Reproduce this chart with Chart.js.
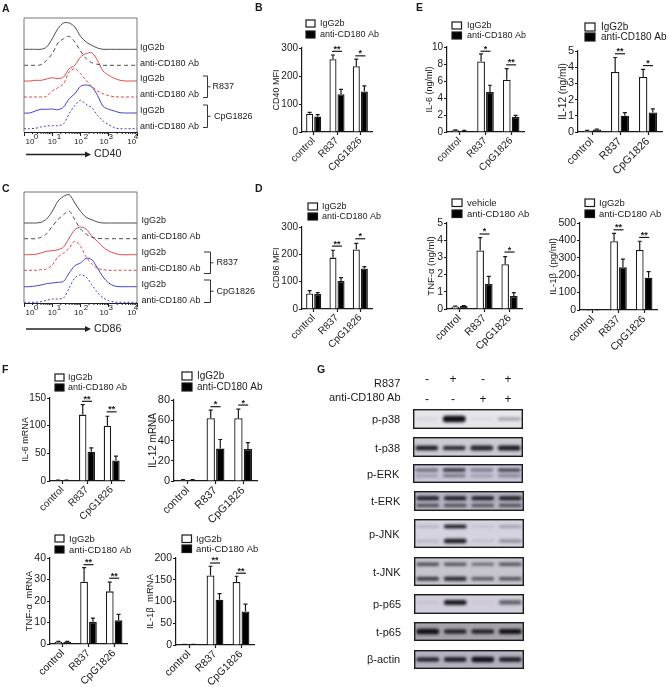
<!DOCTYPE html>
<html>
<head>
<meta charset="utf-8">
<script src="https://cdn.jsdelivr.net/npm/chart.js@4"></script>
<style>
  html,body{margin:0;padding:0;background:#fff;}
  #page{position:relative;width:669px;height:687px;overflow:hidden;font-family:"Liberation Sans",Arial,sans-serif;color:#1a1a1a;}
  #page canvas{position:absolute;}
  .t{position:absolute;white-space:nowrap;transform:translateY(-50%);line-height:1;will-change:transform;}
  .t.c{transform:translate(-50%,-50%);}
</style>
</head>
<body>
<div id="page"></div>
<script>
const FONT = '"Liberation Sans", Arial, sans-serif';
const groups = ['control', 'R837', 'CpG1826'];

// flow histograms: log10 channel, height of each trace
const flowLog = [0,0.2,0.4,0.6,0.8,1,1.2,1.4,1.6,1.8,2,2.2,2.4,2.6,2.8,3,3.2,3.4,3.6,3.8,4];
const flowNames = ['IgG2b','anti-CD180 Ab','IgG2b','anti-CD180 Ab','IgG2b','anti-CD180 Ab'];
const flowExp = ['0','1','2','3','4'];

const a1 = [82.7,82.7,82.7,82.7,85,93.3,103.3,109,109,105,95.7,90,86.7,84,82.7,82.7,82.7,82.7,82.7,82.7,82.7];
const a2 = [66.7,66.7,66.7,67.3,71.7,78.3,89,93.3,95.7,90,81,73.3,69.3,67.7,66.7,66.7,66.7,66.7,66.7,66.7,66.7];
const a3 = [51,51,51.7,51.7,53,54.3,53.3,55,63.3,66.7,75,78.3,79.3,71.7,61,56.7,53.7,51.7,51,51,51];
const a4 = [35,35,35,35,35.7,41,44.3,48.3,60,63.3,58.3,51.7,45.7,41,38.3,36.3,35.3,35,35,35,35];
const a5 = [19,19,21,22.7,22.7,23,22.3,25,33.3,38.3,45.7,47,45,36.7,25.7,22.7,21,19.3,19,19,19];
const a6 = [3.3,3.3,3.7,5,6,6.3,6.3,8.3,18.3,26.7,31.7,27.7,24.3,16.7,11,7.3,4.3,3.3,3.3,3.3,3.3];

const c1 = [80,80,80,80.7,84,91.7,101.7,106.7,108.3,100,91.7,85.7,83.3,81,80,80,80,80,80,80,80];
const c2 = [64.3,64.3,64.3,65.7,69.3,76.7,83.3,88.3,92,83.3,74,69,65.7,64.7,64.3,64.3,64.3,64.3,64.3,64.3,64.3];
const c3 = [48.3,48.3,48.7,50,51.7,52.3,53.3,56,65,73.3,76,74,66.7,61.7,56,52,49.7,48.3,48.3,48.3,48.3];
const c4 = [32.7,32.7,32.7,33.3,34,38,46,50,55,61.7,56.7,46,39,34.7,33.3,32.7,32.7,32.7,32.7,32.7,32.7];
const c5 = [16.3,16.3,17,18,19.3,20,20.7,21.7,30,37.3,40,44.7,43.3,35,26,20,17,16.3,16.3,16.3,16.3];
const c6 = [0.7,0.7,0.7,1.3,2.7,4,4,5,15,25,28.3,26,18.3,10.7,5.3,2.3,1,0.7,0.7,0.7,0.7];

// bar panels: mean, top of error bar, significance label and its level
const cd40Ig = [65,260,235],   cd40IgTop = [70,275,260],   cd40Anti = [55,135,145],  cd40AntiTop = [62,152,165];
const cd40Sig = ['','**','*'], cd40SigAt = [0,288,272];
const il6Ig = [0.2,8.3,6.15],  il6IgTop = [0.25,9.2,7.45], il6Anti = [0.15,4.7,1.76], il6AntiTop = [0.2,5.5,1.96];
const il6Sig = ['','*','**'],  il6SigAt = [0,9.5,7.9];
const il12Ig = [0.08,3.7,3.4], il12IgTop = [0.1,4.6,3.87], il12Anti = [0.15,1,1.2],  il12AntiTop = [0.18,1.2,1.43];
const il12Sig = ['','**','*'], il12SigAt = [0,4.83,4.1];
const cd86Ig = [57,188,218],   cd86IgTop = [67,215,240],   cd86Anti = [55,102,148],  cd86AntiTop = [60,115,155];
const cd86Sig = ['','**','*'], cd86SigAt = [0,230,257];
const tnfVeh = [0.15,3.4,2.6], tnfVehTop = [0.17,4.15,3.05], tnfAnti = [0.17,1.45,0.75], tnfAntiTop = [0.2,1.9,0.95];
const tnfSig = ['','*','*'],   tnfSigAt = [0,4.36,3.31];
const il1Ig = [1,395,345],     il1IgTop = [2,440,395],     il1Anti = [1,245,185],    il1AntiTop = [2,292,220];
const il1Sig = ['','**','**'], il1SigAt = [0,461,417];
const il6mIg = [1,120,100],    il6mIgTop = [1.5,138,117],  il6mAnti = [1,53,37],     il6mAntiTop = [1.5,60,45];
const il6mSig = ['','**','**'], il6mSigAt = [0,144,125];
const il12mIg = [1,62,62],     il12mIgTop = [1.3,70,71],   il12mAnti = [1,32,31.5],  il12mAntiTop = [1.3,41,38];
const il12mSig = ['','*','*'], il12mSigAt = [0,73.4,75];
const tnfmIg = [1,29,24.5],    tnfmIgTop = [1.2,35.5,28.8], tnfmAnti = [1,10.3,11],  tnfmAntiTop = [1.2,12,13.8];
const tnfmSig = ['','**','**'], tnfmSigAt = [0,36.9,30.6];
const il1mIg = [1,160,145],    il1mIgTop = [1.5,181,158],  il1mAnti = [1,104,77],    il1mAntiTop = [1.5,118,94];
const il1mSig = ['','**','**'], il1mSigAt = [0,188.5,165];

// western blots: band level in the blot (0 top, 1 bottom), thickness and darkness per lane
const lanes = ['lane 1','lane 2','lane 3','lane 4'];
const r837Signs = ['-','+','-','+'];
const antiSigns = ['-','-','+','+'];
const pP38Bands = [{y:0.5, h:[0.2,0.32,0.15,0.12], a:[0.06,1,0.05,0.4]}];
const tP38Bands = [{y:0.55, h:[0.22,0.2,0.25,0.25], a:[0.95,0.9,0.9,0.95]}];
const pErkBands = [{y:0.32, h:[0.14,0.16,0.13,0.15], a:[0.6,0.95,0.55,0.9]}, {y:0.62, h:[0.12,0.14,0.12,0.13], a:[0.3,0.55,0.3,0.45]}];
const tErkBands = [{y:0.36, h:[0.2,0.2,0.2,0.2], a:[0.95,0.95,0.95,0.95]}, {y:0.72, h:[0.14,0.14,0.14,0.14], a:[0.75,0.75,0.7,0.75]}];
const pJnkBands = [{y:0.26, h:[0.08,0.12,0.07,0.08], a:[0.2,1,0.12,0.35]}, {y:0.76, h:[0.08,0.16,0.07,0.1], a:[0.18,0.95,0.15,0.4]}];
const tJnkBands = [{y:0.25, h:[0.1,0.1,0.09,0.1], a:[0.75,0.7,0.6,0.7]}, {y:0.75, h:[0.12,0.13,0.1,0.1], a:[0.85,0.9,0.7,0.75]}];
const pP65Bands = [{y:0.42, h:[0.12,0.25,0.1,0.22], a:[0.08,0.95,0.06,0.6]}];
const tP65Bands = [{y:0.5, h:[0.3,0.22,0.2,0.27], a:[1,0.95,0.95,1]}];
const actinBands = [{y:0.5, h:[0.2,0.24,0.28,0.24], a:[0.95,0.95,1,0.95]}];

const page = document.getElementById('page');
function text(str, x, y, size, opts) {
  opts = opts || {};
  const el = document.createElement('div');
  el.className = opts.center ? 't c' : 't';
  el.textContent = str;
  el.style.fontSize = size + 'px';
  el.style.top = y + 'px';
  if (opts.right) el.style.right = (669 - x) + 'px'; else el.style.left = x + 'px';
  if (opts.bold) el.style.fontWeight = 'bold';
  page.appendChild(el);
}
function addCanvas(l, t, w, h) {
  const c = document.createElement('canvas');
  c.width = w; c.height = h;
  c.style.left = l + 'px'; c.style.top = t + 'px';
  c.style.width = w + 'px'; c.style.height = h + 'px';
  page.appendChild(c);
  return c;
}

function barPanel(cfg) {
  const cl = Math.round(cfg.titleX - 5.4), ct = cfg.plot[2] - 40;
  const pl = cfg.plot[0] - cl, pw = cfg.plot[1] - cfg.plot[0], ph = cfg.plot[3] - cfg.plot[2];
  const w = pl + pw + 28, h = 40 + ph + 48;
  const decor = {
    id: 'decor',
    afterDatasetsDraw(chart) {
      const ctx = chart.ctx, xs = chart.scales.x, ys = chart.scales.y;
      ctx.save();
      ctx.strokeStyle = '#1a1a1a'; ctx.lineWidth = 1.2;
      chart.data.datasets.forEach((ds, k) => {
        chart.getDatasetMeta(k).data.forEach((bar, i) => {
          const yTop = ys.getPixelForValue(ds.errTop[i]);
          ctx.beginPath();
          ctx.moveTo(bar.x, bar.y); ctx.lineTo(bar.x, yTop);
          ctx.moveTo(bar.x - 2, yTop); ctx.lineTo(bar.x + 2, yTop);
          ctx.stroke();
        });
      });
      // significance
      ctx.fillStyle = '#1a1a1a'; ctx.textAlign = 'center'; ctx.textBaseline = 'middle';
      ctx.font = 'bold 9px ' + FONT;
      cfg.sig.forEach((s, i) => {
        if (!s) return;
        const x = xs.getPixelForValue(i), y = ys.getPixelForValue(cfg.sigAt[i]);
        ctx.beginPath(); ctx.moveTo(x - 5, y); ctx.lineTo(x + 5, y); ctx.stroke();
        ctx.fillText(s, x, y - 2);
      });
      // legend
      const lg = cfg.legend;
      ctx.textAlign = 'left'; ctx.font = cfg.font + 'px ' + FONT;
      chart.data.datasets.forEach((ds, k) => {
        const bx = lg.x - cl, by = lg.ys[k] - ct;
        ctx.fillStyle = ds.backgroundColor;
        ctx.fillRect(bx, by, lg.w, lg.h);
        ctx.strokeRect(bx, by, lg.w, lg.h);
        ctx.fillStyle = '#1a1a1a';
        ctx.fillText(ds.label, lg.tx - cl, by + lg.h / 2 + 0.5);
      });
      ctx.restore();
    }
  };
  new Chart(addCanvas(cl, ct, w, h), {
    type: 'bar',
    data: {
      labels: groups,
      datasets: [
        {label: cfg.names[0], data: cfg.a, errTop: cfg.aTop, backgroundColor: '#ffffff'},
        {label: cfg.names[1], data: cfg.b, errTop: cfg.bTop, backgroundColor: '#000000'}
      ]
    },
    options: {
      responsive: false, animation: false,
      layout: {padding: {top: 40, right: 28, left: 0, bottom: 0}},
      datasets: {bar: {categoryPercentage: 0.69, barPercentage: 0.875, borderColor: '#1a1a1a', borderWidth: 1.3}},
      plugins: {legend: {display: false}, tooltip: {enabled: false}},
      scales: {
        x: {
          offset: true,
          grid: {display: true, drawOnChartArea: false, offset: false, tickLength: 3, tickColor: '#1a1a1a', tickWidth: 1.2},
          border: {color: '#1a1a1a', width: 1.2},
          ticks: {minRotation: 45, maxRotation: 45, padding: 0, autoSkip: false, color: '#1a1a1a', font: {family: FONT, size: cfg.font + 1}},
          afterFit(s) { s.height = 48; s.paddingLeft = 0; s.paddingRight = 0; }
        },
        y: {
          min: 0, max: cfg.max,
          grid: {display: true, drawOnChartArea: false, tickLength: 3, tickColor: '#1a1a1a', tickWidth: 1.2},
          border: {color: '#1a1a1a', width: 1.2},
          ticks: {stepSize: cfg.step, padding: 1, color: '#1a1a1a', font: {family: FONT, size: cfg.font + 1}},
          title: {display: true, text: cfg.title, padding: 0, color: '#1a1a1a', font: {family: FONT, size: cfg.font}},
          afterFit(s) { s.width = pl; s.paddingTop = 0; s.paddingBottom = 0; }
        }
      }
    },
    plugins: [decor]
  });
}

function flowPanel(cfg) {
  const [L, R, T, B] = cfg.plot;
  const w = 262;
  const colors = ['#4a4a4a','#4a4a4a','#e2474b','#e2474b','#4040cc','#4040cc'];
  const dashes = [[],[4,3],[],[3,2],[],[2,2]];
  const minor = [];
  [0,1,2,3].forEach(d => [2,3,4,5,6,7,8,9].forEach(m => minor.push(d + Math.log10(m))));
  const decor = {
    id: 'flowDecor',
    afterDraw(chart) {
      const ctx = chart.ctx, xs = chart.scales.x, ys = chart.scales.y, a = chart.chartArea;
      ctx.save();
      ctx.strokeStyle = '#777'; ctx.lineWidth = 1;
      ctx.beginPath(); ctx.moveTo(a.left, a.bottom); ctx.lineTo(a.left, a.top); ctx.lineTo(a.right, a.top); ctx.lineTo(a.right, a.bottom); ctx.stroke();
      ctx.strokeStyle = '#222';
      minor.forEach(v => {
        const x = xs.getPixelForValue(v);
        ctx.beginPath(); ctx.moveTo(x, a.bottom); ctx.lineTo(x, a.bottom + 2); ctx.stroke();
      });
      ctx.fillStyle = '#1a1a1a'; ctx.textAlign = 'center'; ctx.textBaseline = 'middle';
      ctx.font = '8px ' + FONT;
      flowExp.forEach((e, i) => {
        const x = xs.getPixelForValue(i);
        ctx.fillText('10', x + cfg.tenNudge[i], a.bottom + 10);
        ctx.fillText(e, x + cfg.expNudge[i], a.bottom + 4.5);
      });
      // trace names sit on the baseline of each trace
      ctx.textAlign = 'left'; ctx.font = '9px ' + FONT;
      chart.data.datasets.forEach(ds => {
        ctx.fillText(ds.label, cfg.nameX, ys.getPixelForValue(ds.data[0].y) - 2);
      });
      // brackets for the stimuli
      ctx.strokeStyle = '#333';
      cfg.brackets.forEach(b => {
        const y0 = b.top - cfg.ct, y1 = b.bottom - cfg.ct, ym = (y0 + y1) / 2;
        ctx.beginPath();
        ctx.moveTo(b.x0, y0); ctx.lineTo(b.x1, y0); ctx.lineTo(b.x1, y1); ctx.lineTo(b.x0, y1);
        ctx.moveTo(b.x1, ym); ctx.lineTo(b.x1 + 3, ym);
        ctx.stroke();
        ctx.fillText(b.label, b.tx, ym);
      });
      // arrow and marker name
      const ay = cfg.arrowY - cfg.ct;
      ctx.strokeStyle = '#222'; ctx.lineWidth = 1.3;
      ctx.beginPath(); ctx.moveTo(26, ay); ctx.lineTo(87, ay); ctx.stroke();
      ctx.fillStyle = '#222';
      ctx.beginPath(); ctx.moveTo(91, ay); ctx.lineTo(85, ay - 3); ctx.lineTo(85, ay + 3); ctx.closePath(); ctx.fill();
      ctx.font = '10.7px ' + FONT;
      ctx.fillText(cfg.marker, 94, ay);
      ctx.restore();
    }
  };
  new Chart(addCanvas(0, cfg.ct, w, cfg.ctH), {
    type: 'line',
    data: {
      datasets: cfg.traces.map((t, i) => ({
        label: flowNames[i],
        data: flowLog.map((x, k) => ({x: x, y: t[k]})),
        borderColor: colors[i], borderWidth: 1, borderDash: dashes[i], pointRadius: 0, tension: 0.3
      }))
    },
    options: {
      responsive: false, animation: false,
      layout: {padding: {top: T - cfg.ct, right: w - R, left: L, bottom: 0}},
      plugins: {legend: {display: false}, tooltip: {enabled: false}},
      scales: {
        x: {
          type: 'linear', min: 0, max: 4,
          grid: {display: true, drawOnChartArea: false, tickLength: 4, tickColor: '#222'},
          border: {color: '#222'},
          ticks: {stepSize: 1, callback: () => '', padding: 0},
          afterFit(s) { s.height = cfg.ct + cfg.ctH - B; s.paddingLeft = 0; s.paddingRight = 0; }
        },
        y: {display: false, min: 0, max: cfg.ymax}
      }
    },
    plugins: [decor]
  });
}

function blot(bands, bg, left, right, top, bottom) {
  const frame = {
    id: 'frame',
    beforeDatasetsDraw(chart) {
      const ctx = chart.ctx;
      ctx.fillStyle = bg;
      ctx.fillRect(0, 0, chart.width, chart.height);
      ctx.save();
      ctx.filter = 'blur(1.4px)';
    },
    afterDatasetsDraw(chart) {
      const ctx = chart.ctx;
      ctx.restore();
      ctx.strokeStyle = '#1c1c1c'; ctx.lineWidth = 1.4;
      ctx.strokeRect(0.7, 0.7, chart.width - 1.4, chart.height - 1.4);
    }
  };
  new Chart(addCanvas(left, top, right - left, bottom - top), {
    type: 'bar',
    data: {
      labels: lanes,
      datasets: bands.map(b => ({
        data: lanes.map((l, i) => [b.y - b.h[i] / 2, b.y + b.h[i] / 2]),
        backgroundColor: b.a.map(v => 'rgba(12,12,18,' + v + ')'),
        borderRadius: 3, borderSkipped: false
      }))
    },
    options: {
      responsive: false, animation: false,
      layout: {padding: 0},
      datasets: {bar: {grouped: false, categoryPercentage: 1, barPercentage: 0.83}},
      plugins: {legend: {display: false}, tooltip: {enabled: false}},
      scales: {x: {display: false}, y: {display: false, min: 0, max: 1, reverse: true}}
    },
    plugins: [frame]
  });
}

// A and C
flowPanel({plot:[24,137,18,132], ct:0, ctH:170, ymax:114, traces:[a1,a2,a3,a4,a5,a6], nameX:140, marker:'CD40', arrowY:154.5,
  tenNudge:[6,0,-2,-4.7,-5.3], expNudge:[12,6.8,5.5,2,-1],
  brackets:[{x0:203,x1:207.5,top:76,bottom:97.5,label:'R837',tx:212.5},{x0:203,x1:207.5,top:105,bottom:127.5,label:'CpG1826',tx:214}]});
flowPanel({plot:[24,137,192,303], ct:172, ctH:170, ymax:111, traces:[c1,c2,c3,c4,c5,c6], nameX:141.5, marker:'CD86', arrowY:329,
  tenNudge:[6,0,-2,-4.7,-5.3], expNudge:[12,6.8,5.5,2,-1],
  brackets:[{x0:204,x1:210.5,top:252,bottom:273.5,label:'R837',tx:216.5},{x0:204,x1:210.5,top:280,bottom:302.5,label:'CpG1826',tx:216.5}]});

const igAnti = ['IgG2b','anti-CD180 Ab'];
barPanel({plot:[302,372,48,132], titleX:276, title:'CD40 MFI', max:300, step:100, font:9, names:igAnti, a:cd40Ig, aTop:cd40IgTop, b:cd40Anti, bTop:cd40AntiTop, sig:cd40Sig, sigAt:cd40SigAt, legend:{x:306,ys:[20,31],w:9,h:7,tx:320}});
barPanel({plot:[447,524,47,132], titleX:429, title:'IL-6 (ng/ml)', max:10, step:2, font:9, names:igAnti, a:il6Ig, aTop:il6IgTop, b:il6Anti, bTop:il6AntiTop, sig:il6Sig, sigAt:il6SigAt, legend:{x:452,ys:[22,32],w:9.5,h:7,tx:467}});
barPanel({plot:[578,662,51,132], titleX:562, title:'IL-12 (ng/ml)', max:5, step:1, font:10, names:igAnti, a:il12Ig, aTop:il12IgTop, b:il12Anti, bTop:il12AntiTop, sig:il12Sig, sigAt:il12SigAt, legend:{x:585,ys:[23,33],w:10,h:8,tx:601}});
barPanel({plot:[302,372,227,309], titleX:276, title:'CD86 MFI', max:300, step:100, font:9, names:igAnti, a:cd86Ig, aTop:cd86IgTop, b:cd86Anti, bTop:cd86AntiTop, sig:cd86Sig, sigAt:cd86SigAt, legend:{x:308,ys:[203,213],w:9.5,h:7,tx:322}});
barPanel({plot:[447,522,223,309], titleX:431, title:'TNF-α (ng/ml)', max:5, step:1, font:9.5, names:['vehicle','anti-CD180 Ab'], a:tnfVeh, aTop:tnfVehTop, b:tnfAnti, bTop:tnfAntiTop, sig:tnfSig, sigAt:tnfSigAt, legend:{x:452,ys:[199,210],w:10,h:7.5,tx:467}});
barPanel({plot:[580,657,223,310], titleX:553, title:'IL-1β  (pg/ml)', max:500, step:100, font:9.5, names:igAnti, a:il1Ig, aTop:il1IgTop, b:il1Anti, bTop:il1AntiTop, sig:il1Sig, sigAt:il1SigAt, legend:{x:585,ys:[199,210],w:9.5,h:7.5,tx:599}});
barPanel({plot:[50,124,398,481], titleX:25, title:'IL-6 mRNA', max:150, step:50, font:9, names:igAnti, a:il6mIg, aTop:il6mIgTop, b:il6mAnti, bTop:il6mAntiTop, sig:il6mSig, sigAt:il6mSigAt, legend:{x:55,ys:[374,384],w:9,h:7,tx:68}});
barPanel({plot:[174,257,400,481], titleX:152, title:'IL-12 mRNA', max:80, step:20, font:10, names:igAnti, a:il12mIg, aTop:il12mIgTop, b:il12mAnti, bTop:il12mAntiTop, sig:il12mSig, sigAt:il12mSigAt, legend:{x:182,ys:[372,383],w:10,h:8,tx:197}});
barPanel({plot:[50,127,558,644], titleX:29, title:'TNF-α  mRNA', max:40, step:10, font:9.5, names:igAnti, a:tnfmIg, aTop:tnfmIgTop, b:tnfmAnti, bTop:tnfmAntiTop, sig:tnfmSig, sigAt:tnfmSigAt, legend:{x:55,ys:[535,546],w:9,h:7,tx:69}});
barPanel({plot:[176,254,558,645], titleX:150, title:'IL-1β  mRNA', max:200, step:50, font:9.5, names:igAnti, a:il1mIg, aTop:il1mIgTop, b:il1mAnti, bTop:il1mAntiTop, sig:il1mSig, sigAt:il1mSigAt, legend:{x:182,ys:[535,545],w:9.5,h:7.5,tx:196}});

// G
blot(pP38Bands, '#e6e5ec', 413, 523, 409, 429);
blot(tP38Bands, '#cbc9d2', 413, 523, 437, 457);
blot(pErkBands, '#c9c6d8', 413, 523, 464, 483);
blot(tErkBands, '#b7b5c2', 414, 524, 491, 511);
blot(pJnkBands, '#d6d3e0', 414, 524, 519, 548);
blot(tJnkBands, '#c6c5ce', 414, 524, 557, 586);
blot(pP65Bands, '#d2cfda', 414, 524, 594, 614);
blot(tP65Bands, '#a6a3aa', 414, 524, 622, 641);
blot(actinBands, '#b6b3c0', 414, 524, 650, 669);

text('R837', 400.5, 382.5, 11, {right:true});
text('anti-CD180 Ab', 400.5, 397, 11, {right:true});
[426.7, 452.7, 483.3, 508.3].forEach((x, i) => {
  text(r837Signs[i], x, 378.5, 12, {center:true});
  text(antiSigns[i], x, 398.5, 12, {center:true});
});
text('p-p38', 400, 419, 11, {right:true});
text('t-p38', 400, 447.5, 11, {right:true});
text('p-ERK', 399, 473.5, 11, {right:true});
text('t-ERK', 400, 501, 11, {right:true});
text('p-JNK', 400, 533.5, 11, {right:true});
text('t-JNK', 400.5, 571.5, 11, {right:true});
text('p-p65', 401, 604, 11, {right:true});
text('t-p65', 401, 632, 11, {right:true});
text('β-actin', 400.5, 658.5, 11, {right:true});

text('A', 2, 7.5, 10.5, {bold:true});
text('B', 255, 6.5, 10.5, {bold:true});
text('E', 416, 6.5, 10.5, {bold:true});
text('C', 2, 188, 10.5, {bold:true});
text('D', 255, 188, 10.5, {bold:true});
text('F', 2, 368.5, 10.5, {bold:true});
text('G', 316.5, 369, 10.5, {bold:true});
</script>
</body>
</html>
